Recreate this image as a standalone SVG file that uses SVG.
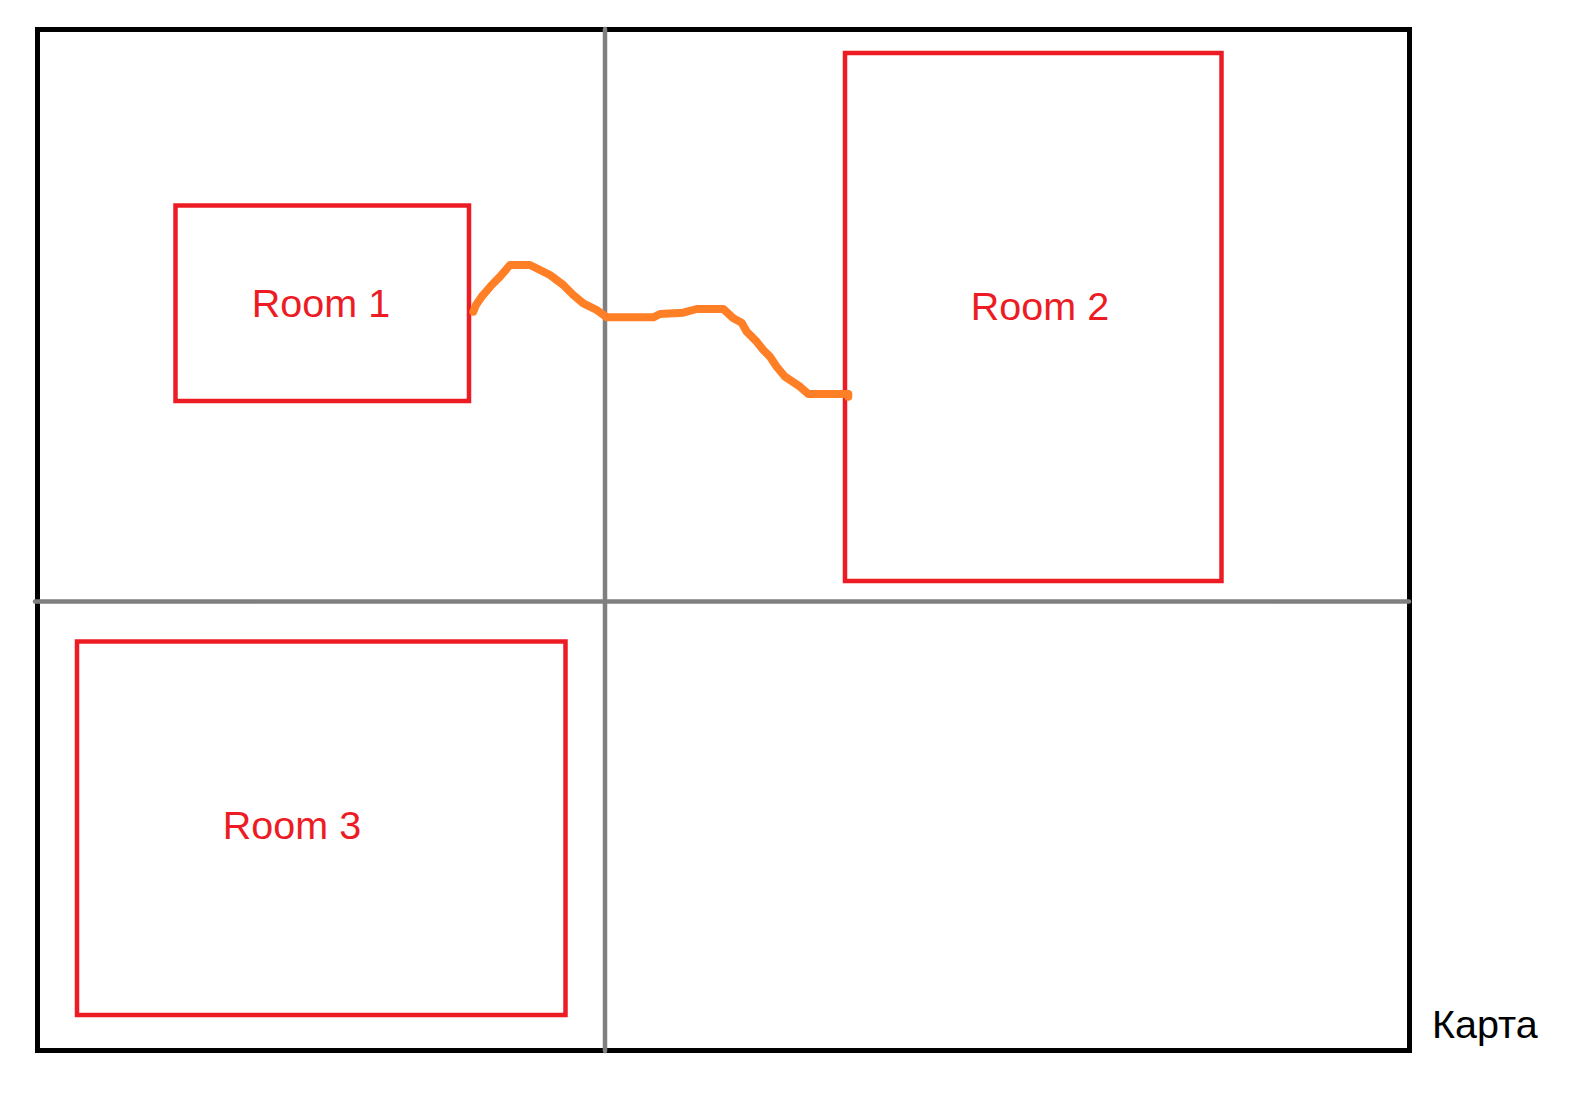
<svg xmlns="http://www.w3.org/2000/svg" width="1584" height="1114" viewBox="0 0 1584 1114">
<style>
.room{fill:none;stroke:#ED1C24;stroke-width:4.5}
.lbl{font-family:"Liberation Sans",Arial,sans-serif;font-size:39.5px;fill:#ED1C24;text-anchor:middle}
.grid{stroke:#7F7F7F;stroke-width:4.5;stroke-linecap:round;fill:none}
.path{fill:none;stroke:#FF7F27;stroke-width:8;stroke-linecap:round;stroke-linejoin:round}
</style>
<rect width="1584" height="1114" fill="#fff"/>
<g id="map">
<rect x="37.5" y="29.5" width="1372" height="1021" fill="none" stroke="#000" stroke-width="5"/>
<line class="grid" x1="605" y1="29" x2="605" y2="1051"/>
<line class="grid" x1="35" y1="601.5" x2="1409" y2="601.5"/>
<text x="1432" y="1038" font-family="'Liberation Sans',Arial,sans-serif" font-size="39.5" fill="#000">Карта</text>
</g>
<g id="room1">
<rect class="room" x="175.5" y="205.5" width="293.5" height="195.5"/>
<text class="lbl" x="321" y="317">Room 1</text>
</g>
<g id="room2">
<rect class="room" x="845" y="53" width="376.5" height="528"/>
<text class="lbl" x="1040" y="320">Room 2</text>
</g>
<g id="room3">
<rect class="room" x="77" y="641.5" width="488.5" height="373.5"/>
<text class="lbl" x="292" y="839">Room 3</text>
</g>
<g id="connectors">
<polyline class="path" points="473.3,311.7 476,305 481.7,296.7 491.7,285 500,276.7 510,265 530,265 540,270 550,275 563.3,285 573.3,295 583.3,303.3 596.7,310 606.7,317.3 653.3,317.3 660,314 683.3,312.7 696.7,309 723.3,309 733.3,318.3 741.7,322.7 746.7,331.7 756.7,341.7 763.3,350 770,356.7 776.7,366.7 785,376.7 800,386.7 808.3,394 848.3,394 848.3,396.7"/>
</g>
</svg>
